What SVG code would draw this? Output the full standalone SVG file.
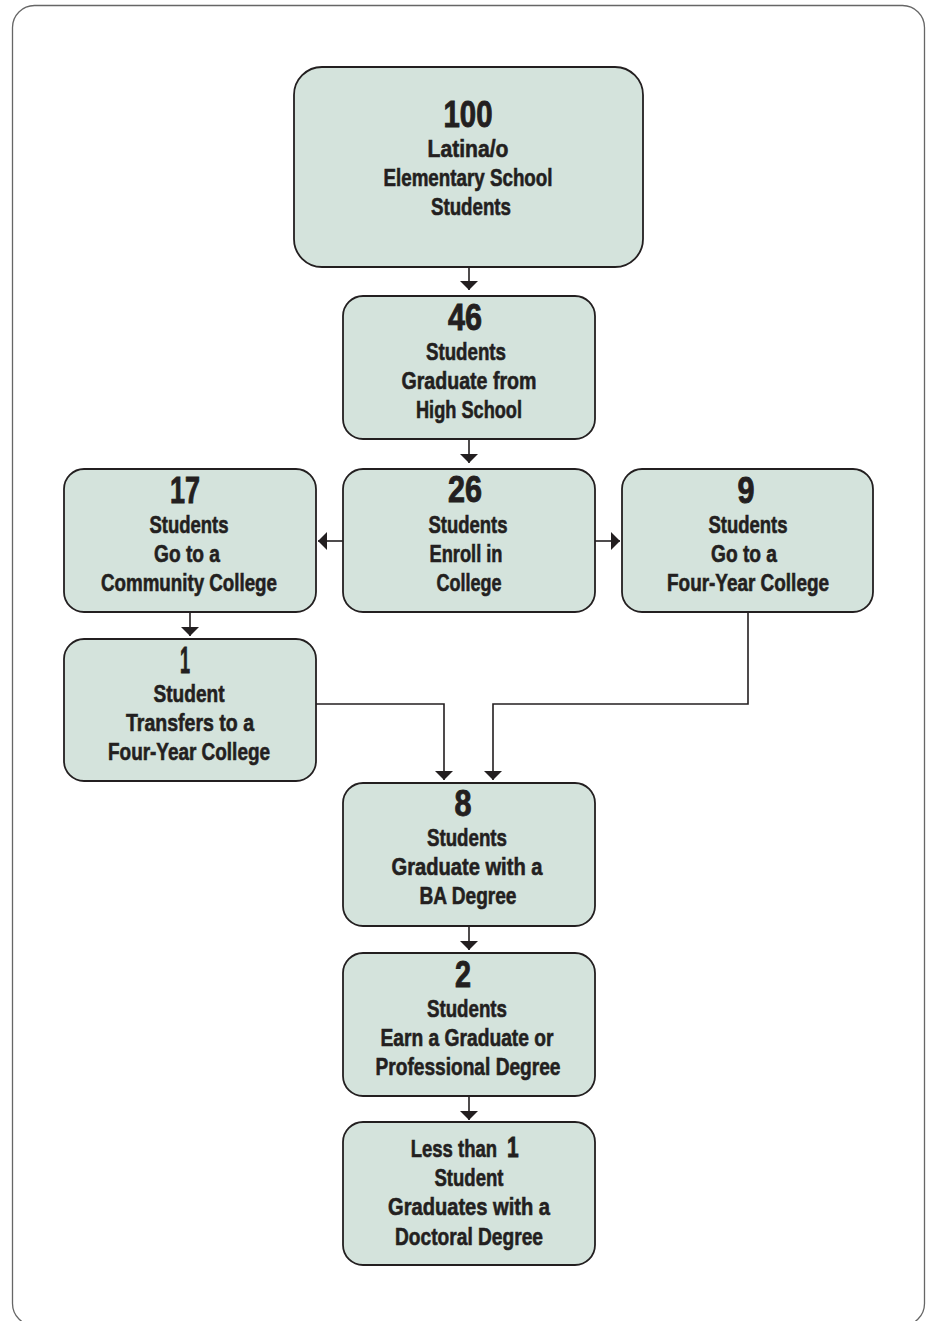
<svg xmlns="http://www.w3.org/2000/svg" width="930" height="1321" viewBox="0 0 930 1321">
<style>
.box{fill:#d4e3dc;stroke:#231f20;stroke-width:1.8}
.t{font-family:"Liberation Sans Narrow","Liberation Sans",Arial,sans-serif;font-weight:bold;fill:#231f20;stroke:#231f20;stroke-width:0.6;text-anchor:middle}
.n{font-size:36px;stroke-width:0.9}
.l{font-size:24px}
.c{fill:none;stroke:#231f20;stroke-width:1.6}
</style>
<defs>
<marker id="ah" viewBox="0 0 9 18" refX="9" refY="9" markerWidth="9" markerHeight="18" markerUnits="userSpaceOnUse" orient="auto">
<path d="M0,0 L9,9 L0,18 z" fill="#231f20"/>
</marker>
</defs>
<rect x="12.5" y="5.5" width="912" height="1320" rx="22" fill="#ffffff" stroke="#666666" stroke-width="1.3"/>
<g id="connectors">
<path class="c" d="M469,267 V290" marker-end="url(#ah)"/>
<path class="c" d="M469,439 V463" marker-end="url(#ah)"/>
<path class="c" d="M343,541 H318" marker-end="url(#ah)"/>
<path class="c" d="M595,541 H620" marker-end="url(#ah)"/>
<path class="c" d="M190,612 V636" marker-end="url(#ah)"/>
<path class="c" d="M316,704 H444 V780" marker-end="url(#ah)"/>
<path class="c" d="M748,612 V704 H493 V780" marker-end="url(#ah)"/>
<path class="c" d="M469,926 V950" marker-end="url(#ah)"/>
<path class="c" d="M469,1096 V1120" marker-end="url(#ah)"/>
</g>
<g id="n100">
<rect class="box" x="294" y="67" width="349" height="200" rx="28"/>
<text class="t n" x="468" y="127" textLength="49" lengthAdjust="spacingAndGlyphs">100</text>
<text class="t l" x="468" y="157" textLength="81" lengthAdjust="spacingAndGlyphs">Latina/o</text>
<text class="t l" x="468" y="186" textLength="169" lengthAdjust="spacingAndGlyphs">Elementary School</text>
<text class="t l" x="471" y="215" textLength="80" lengthAdjust="spacingAndGlyphs">Students</text>
</g>
<g id="n46">
<rect class="box" x="343" y="296" width="252" height="143" rx="20"/>
<text class="t n" x="465" y="330" textLength="34" lengthAdjust="spacingAndGlyphs">46</text>
<text class="t l" x="466" y="360" textLength="80" lengthAdjust="spacingAndGlyphs">Students</text>
<text class="t l" x="469" y="389" textLength="135" lengthAdjust="spacingAndGlyphs">Graduate from</text>
<text class="t l" x="469" y="418" textLength="106" lengthAdjust="spacingAndGlyphs">High School</text>
</g>
<g id="n26">
<rect class="box" x="343" y="469" width="252" height="143" rx="20"/>
<text class="t n" x="465" y="502" textLength="34" lengthAdjust="spacingAndGlyphs">26</text>
<text class="t l" x="468" y="533" textLength="79" lengthAdjust="spacingAndGlyphs">Students</text>
<text class="t l" x="466" y="562" textLength="73" lengthAdjust="spacingAndGlyphs">Enroll in</text>
<text class="t l" x="469" y="591" textLength="65" lengthAdjust="spacingAndGlyphs">College</text>
</g>
<g id="n17">
<rect class="box" x="64" y="469" width="252" height="143" rx="20"/>
<text class="t n" x="185" y="503" textLength="30" lengthAdjust="spacingAndGlyphs">17</text>
<text class="t l" x="189" y="533" textLength="79" lengthAdjust="spacingAndGlyphs">Students</text>
<text class="t l" x="187" y="562" textLength="66" lengthAdjust="spacingAndGlyphs">Go to a</text>
<text class="t l" x="189" y="591" textLength="176" lengthAdjust="spacingAndGlyphs">Community College</text>
</g>
<g id="n9">
<rect class="box" x="622" y="469" width="251" height="143" rx="20"/>
<text class="t n" x="746" y="503" textLength="17" lengthAdjust="spacingAndGlyphs">9</text>
<text class="t l" x="748" y="533" textLength="79" lengthAdjust="spacingAndGlyphs">Students</text>
<text class="t l" x="744" y="562" textLength="66" lengthAdjust="spacingAndGlyphs">Go to a</text>
<text class="t l" x="748" y="591" textLength="162" lengthAdjust="spacingAndGlyphs">Four-Year College</text>
</g>
<g id="n1">
<rect class="box" x="64" y="639" width="252" height="142" rx="20"/>
<text class="t n" x="185" y="673" textLength="10" lengthAdjust="spacingAndGlyphs">1</text>
<text class="t l" x="189" y="702" textLength="71" lengthAdjust="spacingAndGlyphs">Student</text>
<text class="t l" x="190" y="731" textLength="128" lengthAdjust="spacingAndGlyphs">Transfers to a</text>
<text class="t l" x="189" y="760" textLength="162" lengthAdjust="spacingAndGlyphs">Four-Year College</text>
</g>
<g id="n8">
<rect class="box" x="343" y="783" width="252" height="143" rx="20"/>
<text class="t n" x="463" y="816" textLength="17" lengthAdjust="spacingAndGlyphs">8</text>
<text class="t l" x="467" y="846" textLength="80" lengthAdjust="spacingAndGlyphs">Students</text>
<text class="t l" x="467" y="875" textLength="151" lengthAdjust="spacingAndGlyphs">Graduate with a</text>
<text class="t l" x="468" y="904" textLength="97" lengthAdjust="spacingAndGlyphs">BA Degree</text>
</g>
<g id="n2">
<rect class="box" x="343" y="953" width="252" height="143" rx="20"/>
<text class="t n" x="463" y="987" textLength="16" lengthAdjust="spacingAndGlyphs">2</text>
<text class="t l" x="467" y="1017" textLength="80" lengthAdjust="spacingAndGlyphs">Students</text>
<text class="t l" x="467" y="1046" textLength="173" lengthAdjust="spacingAndGlyphs">Earn a Graduate or</text>
<text class="t l" x="468" y="1075" textLength="185" lengthAdjust="spacingAndGlyphs">Professional Degree</text>
</g>
<g id="nLess">
<rect class="box" x="343" y="1122" width="252" height="143" rx="20"/>
<text class="t l" transform="translate(497,1157) scale(0.77,1)" x="0" y="0" style="text-anchor:end">Less than</text>
<text class="t" transform="translate(507,1157) scale(0.7,1)" x="0" y="0" style="text-anchor:start;font-size:30px;stroke-width:0.8">1</text>
<text class="t l" x="469" y="1186" textLength="69" lengthAdjust="spacingAndGlyphs">Student</text>
<text class="t l" x="469" y="1215" textLength="162" lengthAdjust="spacingAndGlyphs">Graduates with a</text>
<text class="t l" x="469" y="1245" textLength="148" lengthAdjust="spacingAndGlyphs">Doctoral Degree</text>
</g>
</svg>
